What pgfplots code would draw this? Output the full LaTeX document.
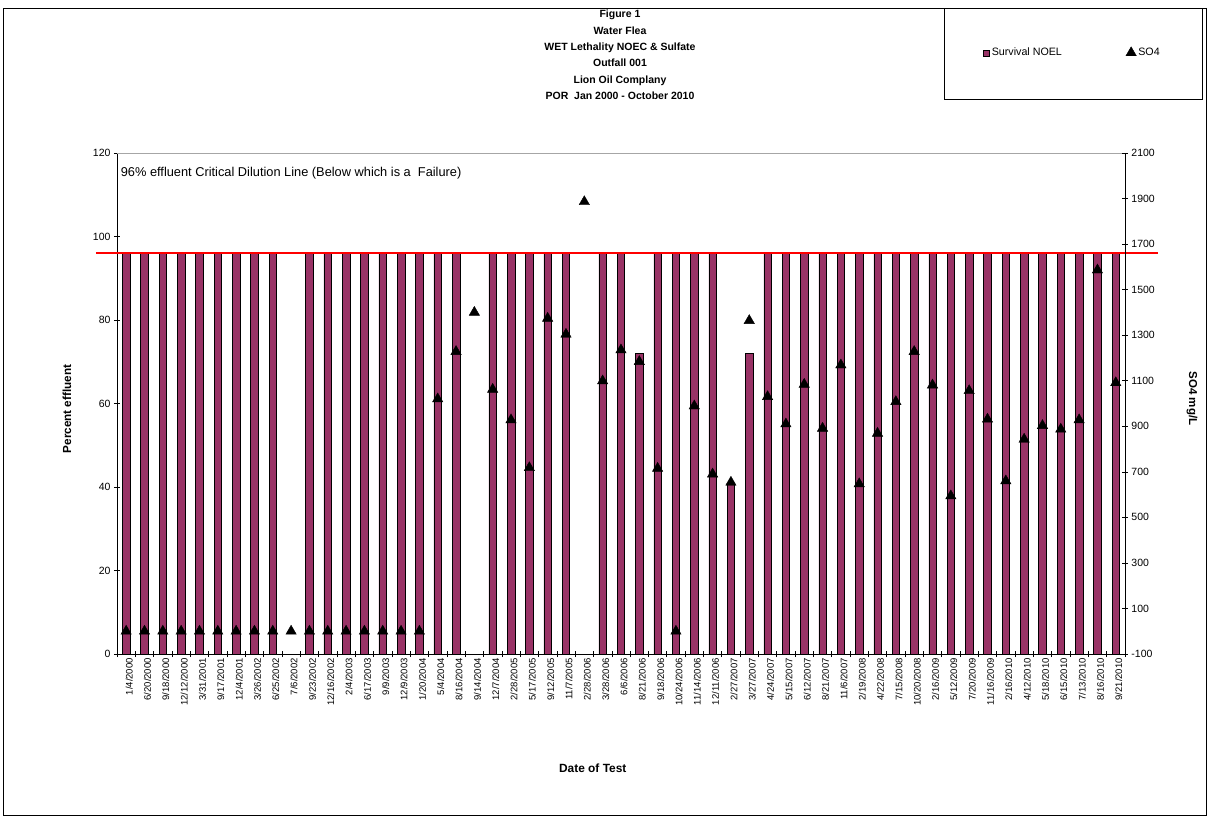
\documentclass[border=0pt]{standalone}
\usepackage{pgfplots}
\pgfplotsset{compat=1.18}
\usepackage{fontspec}
\setmainfont{Liberation Sans}
\definecolor{plum}{RGB}{153,51,102}

\pgfplotstableread{
x noel
0 96
1 96
2 96
3 96
4 96
5 96
6 96
7 96
8 96
10 96
11 96
12 96
13 96
14 96
15 96
16 96
17 96
18 96
20 96
21 96
22 96
23 96
24 96
26 96
27 96
28 72
29 96
30 96
31 96
32 96
33 41
34 72
35 96
36 96
37 96
38 96
39 96
40 96
41 96
42 96
43 96
44 96
45 96
46 96
47 96
48 96
49 96
50 96
51 96
52 96
53 96
54 96
}\noeltable

\pgfplotstableread{
x so4
0 0
1 0
2 0
3 0
4 0
5 0
6 0
7 0
8 0
9 0
10 0
11 0
12 0
13 0
14 0
15 0
16 0
17 1020
18 1228
19 1400
20 1062
21 928
22 718
23 1374
24 1304
25 1886
26 1099
27 1235
28 1184
29 715
30 0
31 989
32 690
33 654
34 1364
35 1030
36 910
37 1084
38 891
39 1169
40 647
41 869
42 1008
43 1228
44 1081
45 594
46 1056
47 931
48 660
49 843
50 903
51 887
52 928
53 1586
54 1091
}\sotable

\begin{document}
\begin{tikzpicture}[x=1pt,y=1pt]
\path[use as bounding box] (-117,-162) rectangle (1090,654);
\draw[black, line width=0.8pt] (-114,-161) rectangle (1089,646);

\begin{axis}[
  scale only axis, width=1008pt, height=501pt,
  xmin=-0.5, xmax=54.5, ymin=0, ymax=120,
  axis x line*=bottom, axis y line*=left,
  axis line style={black, line width=0.8pt},
  xtick={0,...,54},
  xticklabels={1/4/2000,6/20/2000,9/18/2000,12/12/2000,3/31/2001,9/17/2001,12/4/2001,3/26/2002,6/25/2002,7/6/2002,9/23/2002,12/16/2002,2/4/2003,6/17/2003,9/9/2003,12/9/2003,1/20/2004,5/4/2004,8/16/2004,9/14/2004,12/7/2004,2/28/2005,5/17/2005,9/12/2005,11/7/2005,2/28/2006,3/28/2006,6/6/2006,8/21/2006,9/18/2006,10/24/2006,11/14/2006,12/11/2006,2/27/2007,3/27/2007,4/24/2007,5/15/2007,6/12/2007,8/21/2007,11/6/2007,2/19/2008,4/22/2008,7/15/2008,10/20/2008,2/16/2009,5/12/2009,7/20/2009,11/16/2009,2/16/2010,4/12/2010,5/18/2010,6/15/2010,7/13/2010,8/16/2010,9/21/2010},
  major x tick style={draw=none},
  minor xtick={-0.5,0.5,...,54.5},
  ytick={0,20,...,120},
  tick align=center, major tick length=6pt, minor tick length=6pt,
  tick style={black, line width=0.6pt},
  /pgf/number format/assume math mode=true,
  xticklabel style={rotate=90, anchor=east, font=\fontsize{9.5}{11}\selectfont, inner sep=1pt, yshift=-3pt},
  yticklabel style={font=\fontsize{10.5}{12}\selectfont},
  ylabel={Percent effluent},
  ylabel style={font=\bfseries\fontsize{11.7}{13}\selectfont, at={(axis description cs:-0.0496,0.489)}, anchor=center},
  xlabel={Date of Test},
  xlabel style={font=\bfseries\fontsize{11.9}{13}\selectfont, at={(axis description cs:0.472,-0.2275)}, anchor=center},
  clip=false,
]
\addplot[ybar, bar width=7.5pt, bar shift=0pt, fill=plum, draw=black, line width=0.5pt] table[x=x, y=noel] {\noeltable};
\draw[red, line width=2pt] (axis cs:-1.65,96) -- (axis cs:56.3,96);
\draw[gray!70, line width=0.6pt] (rel axis cs:0,1) -- (rel axis cs:1,1);
\node[anchor=west, font=\fontsize{12.8}{14}\selectfont, inner sep=0pt] at (axis cs:-0.3,115.2) {96\% effluent Critical Dilution Line (Below which is a\ \ Failure)};
\end{axis}

\begin{axis}[
  scale only axis, width=1008pt, height=501pt,
  xmin=-0.5, xmax=54.5, ymin=-100, ymax=2100,
  axis y line*=right, axis x line=none,
  axis line style={black, line width=0.8pt},
  ytick={-100,100,...,2100},
  tick align=center, major tick length=6pt,
  tick style={black, line width=0.6pt},
  /pgf/number format/assume math mode=true,
  yticklabel style={font=\fontsize{10.5}{12}\selectfont, /pgf/number format/1000 sep={}},
  ylabel={SO4 mg/L},
  ylabel style={font=\bfseries\fontsize{11.5}{13}\selectfont, at={(axis description cs:1.0665,0.51)}, anchor=center, rotate=180},
  clip=false,
  legend columns=2,
  legend style={draw=none, fill=none, at={(0.948,1.2)}, anchor=center, font=\fontsize{10.7}{12}\selectfont,
    /tikz/every even column/.append style={column sep=62pt}},
]
\addlegendimage{legend image code/.code={\draw[fill=plum, draw=black, line width=0.5pt] (0pt,-3pt) rectangle (6pt,3pt);}}
\addlegendentry{Survival NOEL}
\addplot[only marks, mark=triangle*, mark size=6pt, black] table[x=x, y=so4] {\sotable};
\addlegendentry{SO4}
\end{axis}

\draw[black, line width=0.8pt] (827,646) rectangle (1085,555);

\node[align=center, font=\bfseries\fontsize{10.5}{16.4}\selectfont] at (503,599) {Figure 1\\Water Flea\\WET Lethality NOEC \& Sulfate\\Outfall 001\\Lion Oil Complany\\POR\ \ Jan 2000 - October 2010};
\end{tikzpicture}
\end{document}
